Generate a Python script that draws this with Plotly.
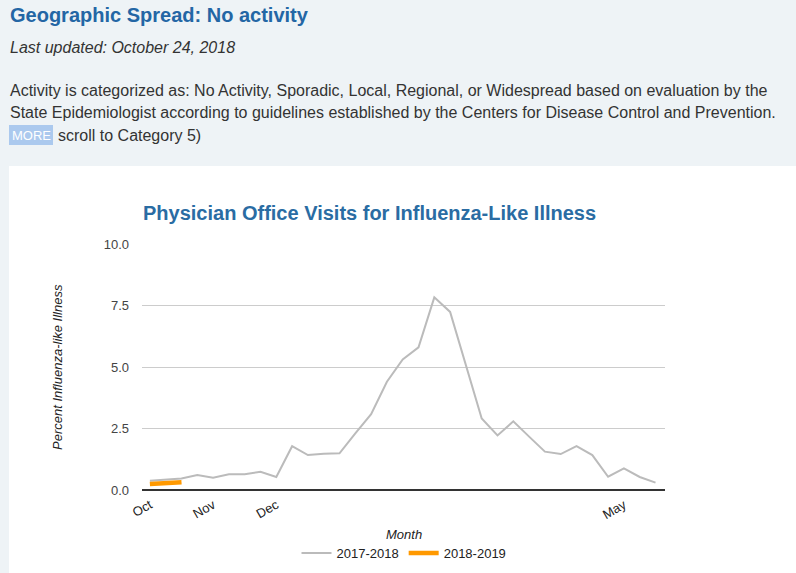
import plotly.graph_objects as go

# MMWR weeks of the flu season (week 40 through week 20)
weeks = [str(w) for w in list(range(40, 53)) + list(range(1, 21))]

# percent of physician office visits for influenza-like illness
ili_2017_2018 = [0.38, 0.43, 0.47, 0.61, 0.50, 0.64, 0.64, 0.74, 0.53, 1.78,
                 1.42, 1.47, 1.49, 2.30, 3.08, 4.40, 5.31, 5.80, 7.83, 7.24,
                 5.04, 2.91, 2.22, 2.79, 2.17, 1.56, 1.46, 1.78, 1.42, 0.54,
                 0.88, 0.53, 0.30]
ili_2018_2019 = [0.24, 0.30, 0.32]

month_ticks = ["40", "44", "48", "18"]
month_labels = ["Oct", "Nov", "Dec", "May"]

W, H = 796, 573
L, R, T, B = 142, 665, 244, 490  # plot area in pixels

def px(x):
    return (x - L) / (R - L)

def py(y):
    return (B - y) / (B - T)

FONT = "Arial, Liberation Sans, sans-serif"

fig = go.Figure()

fig.add_trace(go.Scatter(
    x=weeks,
    y=ili_2017_2018,
    mode='lines',
    line=dict(color='#bbbbbb', width=2),
    name='2017-2018'
))

fig.add_trace(go.Scatter(
    x=weeks[:len(ili_2018_2019)],
    y=ili_2018_2019,
    mode='lines',
    line=dict(color='#ff9900', width=4.5),
    name='2018-2019'
))

# white panel behind the chart
fig.add_shape(type='rect', xref='paper', yref='paper', layer='below',
              x0=px(9), x1=px(W + 5), y0=py(H + 5), y1=py(166),
              fillcolor='white', line=dict(width=0))

# the "MORE" button
fig.add_shape(type='rect', xref='paper', yref='paper',
              x0=px(9), x1=px(53), y0=py(145), y1=py(125),
              fillcolor='#abc9ee', line=dict(width=0))

texts = [
    # (x, y, text, size, color, anchor)
    (8, 15, "<b>Geographic Spread: No activity</b>", 20, '#2366a5', 'left'),
    (8, 47, "<i>Last updated: October 24, 2018</i>", 16, '#333333', 'left'),
    (8, 90, "Activity is categorized as: No Activity, Sporadic, Local, Regional, "
            "or Widespread based on evaluation by the", 16, '#333333', 'left'),
    (8, 112, "State Epidemiologist according to guidelines established by the "
             "Centers for Disease Control and Prevention.", 16, '#333333', 'left'),
    (31, 135, "MORE", 13, 'white', 'center'),
    (56, 135, "scroll to Category 5)", 16, '#333333', 'left'),
    (369, 213, "<b>Physician Office Visits for Influenza-Like Illness</b>", 20, '#2a6ca3', 'center'),
    (404, 534, "<i>Month</i>", 13, '#222222', 'center'),
]
for x, y, text, size, color, anchor in texts:
    fig.add_annotation(x=px(x), y=py(y), xref='paper', yref='paper',
                       text=text, showarrow=False, xanchor=anchor, yanchor='middle',
                       font=dict(family=FONT, size=size, color=color))

fig.add_annotation(x=px(57), y=py(367), xref='paper', yref='paper',
                   text="<i>Percent Influenza-like Illness</i>", textangle=-90,
                   showarrow=False, xanchor='center', yanchor='middle',
                   font=dict(family=FONT, size=13, color='#222222'))

fig.update_layout(
    width=W, height=H,
    margin=dict(l=L, r=W - R, t=T, b=H - B, autoexpand=False),
    paper_bgcolor='#eef3f6',
    plot_bgcolor='white',
    font=dict(family=FONT, size=13, color='#444444'),
    showlegend=True,
    legend=dict(orientation='h', x=px(404), y=py(553), xanchor='center', yanchor='middle',
                font=dict(size=13, color='#222222'), bgcolor='rgba(0,0,0,0)'),
    xaxis=dict(type='category', range=[-0.5, 32.6], tickmode='array',
               tickvals=month_ticks, ticktext=month_labels, tickangle=-30,
               showgrid=False, zeroline=False, showline=False, ticks='',
               automargin=False, ticklabelstandoff=4,
               tickfont=dict(size=13, color='#222222')),
    yaxis=dict(range=[0, 10], tickvals=[0, 2.5, 5, 7.5, 10], tickformat='.1f',
               gridcolor='#cccccc', gridwidth=1, zeroline=True,
               zerolinecolor='#333333', zerolinewidth=1.5, showline=False,
               ticks='', automargin=False, ticklabelstandoff=12,
               tickfont=dict(size=13, color='#444444')),
)

# drop the browser's default body margin so the figure fills the window
fig.write_html("out.html", config={'displayModeBar': False},
               post_script="document.body.style.margin='0';")
